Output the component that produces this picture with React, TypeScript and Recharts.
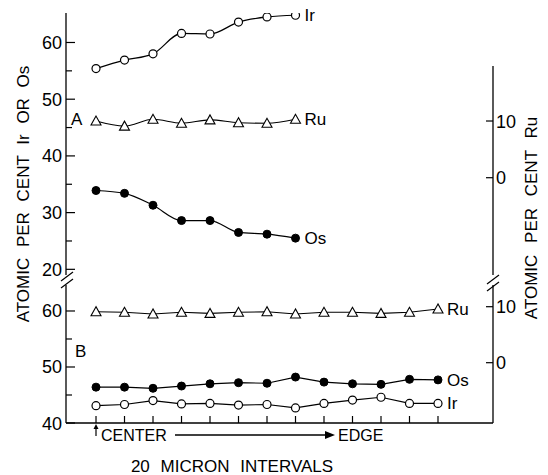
import React from 'react';
import { LineChart, Line, XAxis, YAxis, ReferenceLine } from 'recharts';

// ---- data (20 micron intervals, centre -> edge) ----
const positionsA = [0, 1, 2, 3, 4, 5, 6, 7];
const positionsB = [0, 1, 2, 3, 4, 5, 6, 7, 8, 9, 10, 11, 12];

// Panel A (left axis: Ir / Os, right axis: Ru)
const irA = [55.4, 56.9, 58.0, 61.6, 61.5, 63.6, 64.5, 64.8];
const osA = [33.9, 33.4, 31.3, 28.6, 28.6, 26.5, 26.2, 25.5];
const ruA = [10.0, 9.1, 10.3, 9.6, 10.2, 9.7, 9.6, 10.3];

// Panel B
const irB = [43.1, 43.3, 44.0, 43.4, 43.5, 43.2, 43.3, 42.7, 43.5, 44.1, 44.6, 43.5, 43.5];
const osB = [46.4, 46.4, 46.2, 46.6, 47.0, 47.2, 47.1, 48.2, 47.3, 47.0, 46.9, 47.8, 47.7];
const ruB = [9.1, 9.0, 8.7, 9.0, 8.8, 9.0, 9.1, 8.7, 9.0, 9.0, 8.8, 9.0, 9.6];

// tick labels
const leftTicksA = [20, 25, 30, 35, 40, 45, 50, 55, 60];
const leftTicksB = [40, 45, 50, 55, 60];
const rightTicks = [0, 10];

const dataA = positionsA.map((x, i) => ({ x, ir: irA[i], os: osA[i], ru: ruA[i] }));
const dataB = positionsB.map((x, i) => ({ x, ir: irB[i], os: osB[i], ru: ruB[i] }));

const FONT = '"Liberation Sans", Arial, Helvetica, sans-serif';
const X_DOMAIN: [number, number] = [-1.053, 13.93];

const LeftTick = (props: any) => {
  const { x, y, payload } = props;
  const v = payload.value;
  const major = v % 10 === 0;
  const ax = x + 4;
  return (
    <g>
      <line x1={ax} x2={ax + (major ? 9 : 6)} y1={y} y2={y} stroke="#000" strokeWidth={1.2} />
      {major && (
        <text x={x} y={y} dy={6.5} textAnchor="end" fontSize={18} fontFamily={FONT} fill="#000">
          {v}
        </text>
      )}
    </g>
  );
};

const RightTick = (props: any) => {
  const { x, y, payload } = props;
  const ax = x - 3;
  return (
    <g>
      <line x1={ax} x2={ax - 7} y1={y} y2={y} stroke="#000" strokeWidth={1.2} />
      <text x={x} y={y} dy={6.5} textAnchor="start" fontSize={18} fontFamily={FONT} fill="#000">
        {payload.value}
      </text>
    </g>
  );
};

const Triangle = (props: any) => {
  const { cx, cy } = props;
  if (cx == null || cy == null) return <g />;
  return (
    <polygon
      points={`${cx},${cy - 5} ${cx - 5},${cy + 4} ${cx + 5},${cy + 4}`}
      fill="#fff"
      stroke="#000"
      strokeWidth={1.1}
    />
  );
};

const endLabel = (text: string, lastIndex: number) => (props: any) => {
  const x = props.x ?? props.viewBox?.x;
  const y = props.y ?? props.viewBox?.y;
  if (props.index !== lastIndex || x == null) return <g />;
  return (
    <text x={x + 9} y={y} dy={6} fontSize={17} fontFamily={FONT} fill="#000">
      {text}
    </text>
  );
};

const openDot = { r: 4, fill: '#fff', stroke: '#000', strokeWidth: 1.2 };
const filledDot = { r: 4, fill: '#000', stroke: '#000', strokeWidth: 1 };

export default function App() {
  return (
    <div style={{ position: 'absolute', left: 0, top: 0, width: 548, height: 475, background: '#fff' }}>
      {/* Panel A */}
      <div style={{ position: 'absolute', left: 0, top: 0 }}>
        <LineChart width={548} height={292} data={dataA} margin={{ top: 13, right: 0, bottom: 17, left: 0 }}>
          <XAxis type="number" dataKey="x" domain={X_DOMAIN} hide allowDataOverflow />
          <YAxis
            yAxisId="left"
            orientation="left"
            width={66}
            domain={[19, 65.2]}
            ticks={leftTicksA}
            tickSize={0}
            tickMargin={4}
            tickLine={false}
            axisLine={{ stroke: '#000', strokeWidth: 1.3 }}
            tick={(p: any) => <LeftTick {...p} />}
            allowDataOverflow
            interval={0}
          />
          <YAxis
            yAxisId="right"
            orientation="right"
            width={55}
            domain={[-17.16, 29.05]}
            ticks={rightTicks}
            tickSize={0}
            tickMargin={3}
            tickLine={false}
            axisLine={false}
            tick={(p: any) => <RightTick {...p} />}
            allowDataOverflow
            interval={0}
          />
          <ReferenceLine
            yAxisId="right"
            segment={[{ x: X_DOMAIN[1], y: -17.16 }, { x: X_DOMAIN[1], y: 19.7 }]}
            stroke="#000"
            strokeWidth={1.3}
            ifOverflow="visible"
          />
          <Line yAxisId="left" type="monotone" dataKey="ir" stroke="#000" strokeWidth={1.2} dot={openDot}
            isAnimationActive={false} label={endLabel('Ir', irA.length - 1)} />
          <Line yAxisId="right" type="monotone" dataKey="ru" stroke="#000" strokeWidth={1.1} dot={(p: any) => <Triangle key={p.index} {...p} />}
            isAnimationActive={false} label={endLabel('Ru', ruA.length - 1)} />
          <Line yAxisId="left" type="monotone" dataKey="os" stroke="#000" strokeWidth={1.2} dot={filledDot}
            isAnimationActive={false} label={endLabel('Os', osA.length - 1)} />
        </LineChart>
      </div>

      {/* Panel B */}
      <div style={{ position: 'absolute', left: 0, top: 0 }}>
        <LineChart width={548} height={475} data={dataB} margin={{ top: 285, right: 0, bottom: 52, left: 0 }}>
          <XAxis
            type="number"
            dataKey="x"
            domain={X_DOMAIN}
            ticks={positionsB}
            mirror
            tickSize={7}
            tick={() => <g />}
            axisLine={{ stroke: '#000', strokeWidth: 1.3 }}
            tickLine={{ stroke: '#000', strokeWidth: 1.2 }}
            allowDataOverflow
            interval={0}
          />
          <YAxis
            yAxisId="left"
            orientation="left"
            width={66}
            domain={[40, 64.64]}
            ticks={leftTicksB}
            tickSize={0}
            tickMargin={4}
            tickLine={false}
            axisLine={{ stroke: '#000', strokeWidth: 1.3 }}
            tick={(p: any) => <LeftTick {...p} />}
            allowDataOverflow
            interval={0}
          />
          <YAxis
            yAxisId="right"
            orientation="right"
            width={55}
            domain={[-10.77, 13.875]}
            ticks={rightTicks}
            tickSize={0}
            tickMargin={3}
            tickLine={false}
            axisLine={{ stroke: '#000', strokeWidth: 1.3 }}
            tick={(p: any) => <RightTick {...p} />}
            allowDataOverflow
            interval={0}
          />
          <Line yAxisId="right" type="linear" dataKey="ru" stroke="#000" strokeWidth={1.1} dot={(p: any) => <Triangle key={p.index} {...p} />}
            isAnimationActive={false} label={endLabel('Ru', ruB.length - 1)} />
          <Line yAxisId="left" type="linear" dataKey="os" stroke="#000" strokeWidth={1.2} dot={filledDot}
            isAnimationActive={false} label={endLabel('Os', osB.length - 1)} />
          <Line yAxisId="left" type="linear" dataKey="ir" stroke="#000" strokeWidth={1.2} dot={openDot}
            isAnimationActive={false} label={endLabel('Ir', irB.length - 1)} />
        </LineChart>
      </div>

      {/* annotations */}
      <svg width={548} height={475} style={{ position: 'absolute', left: 0, top: 0, pointerEvents: 'none' }}>
        <g fontFamily={FONT} fill="#000" fontSize={17}>
          <text x={23} y={194} dy={6} textAnchor="middle" wordSpacing={6} transform="rotate(-90 23 194)">
            ATOMIC PER CENT Ir OR Os
          </text>
          <text x={531} y={218} dy={6} textAnchor="middle" wordSpacing={7} transform="rotate(-90 531 218)">
            ATOMIC PER CENT Ru
          </text>
          <text x={71} y={125}>A</text>
          <text x={75} y={357}>B</text>
          <text x={101} y={441} fontSize={16}>CENTER</text>
          <text x={338} y={441} fontSize={16}>EDGE</text>
          <text x={232} y={472} textAnchor="middle" wordSpacing={6}>20 MICRON INTERVALS</text>
        </g>
        {/* up arrow under centre */}
        <line x1={96} y1={436} x2={96} y2={427} stroke="#000" strokeWidth={1.2} />
        <polygon points="96,424 93.5,429 98.5,429" fill="#000" />
        {/* centre -> edge arrow */}
        <line x1={175} y1={435} x2={327} y2={435} stroke="#000" strokeWidth={1.3} />
        <polygon points="335,435 325,431 325,439" fill="#000" />
        {/* axis breaks */}
        <line x1={61} y1={281} x2={73} y2={272} stroke="#000" strokeWidth={1.2} />
        <line x1={61} y1={288} x2={73} y2={279} stroke="#000" strokeWidth={1.2} />
        <line x1={487} y1={284} x2={499} y2={275} stroke="#000" strokeWidth={1.2} />
        <line x1={487} y1={291} x2={499} y2={282} stroke="#000" strokeWidth={1.2} />
      </svg>
    </div>
  );
}
